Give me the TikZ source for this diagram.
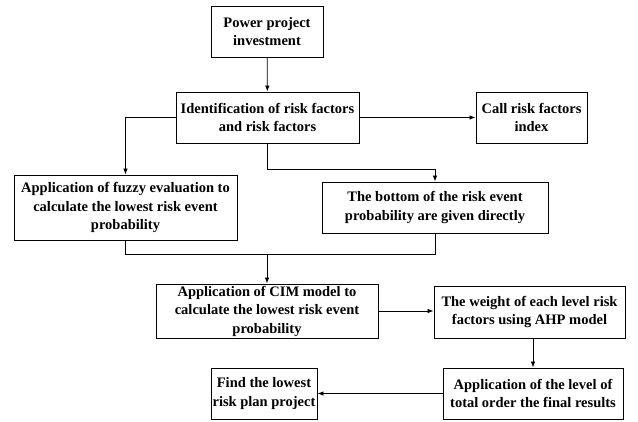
\documentclass[tikz,border=0pt]{standalone}
\usepackage{fontspec}
\setmainfont{Liberation Serif}
\usetikzlibrary{arrows.meta}
\begin{document}
\begin{tikzpicture}[x=1pt,y=-1pt,
    box/.style={draw, line width=0.9pt, align=center, inner sep=0pt,
        font=\bfseries\fontsize{14.5}{18.5}\selectfont},
    arr/.style={line width=0.8pt, -{Latex[length=6pt,width=4.5pt]}}]
    \useasboundingbox (0,0) rectangle (638,421);
    % boxes
    \node[box, minimum width=112, minimum height=51] (invest) at (267,31.5) {Power project\\investment};
    \node[box, minimum width=183, minimum height=51] (ident) at (267.5,117.5) {Identification of risk factors\\and risk factors};
    \node[box, minimum width=111, minimum height=51] (index) at (531.5,117.5) {Call risk factors\\index};
    \node[box, minimum width=223, minimum height=65] (fuzzy) at (125.5,207.5) {Application of fuzzy evaluation to\\calculate the lowest risk event\\probability};
    \node[box, minimum width=226, minimum height=51] (direct) at (435,207.5) {The bottom of the risk event\\probability are given directly};
    \node[box, minimum width=222, minimum height=54] (cim) at (267,311) {Application of CIM model to\\calculate the lowest risk event\\probability};
    \node[box, minimum width=191, minimum height=52] (ahp) at (529.5,312) {The weight of each level risk\\factors using AHP model};
    \node[box, minimum width=180, minimum height=51] (total) at (533,393.5) {Application of the level of\\total order the final results};
    \node[box, minimum width=106, minimum height=51] (lowest) at (264,393.5) {Find the lowest\\risk plan project};
    \coordinate (join) at (267,254);
    % connectors
    \draw[arr] (invest) -- (ident);
    \draw[arr] (ident) -- (index);
    \draw[arr] (ident.west) -| (fuzzy.north);
    \draw[arr] (ident.south) -- ++(0,26) -| (direct.north);
    \draw[line width=0.8pt] (fuzzy.south) -- (fuzzy.south |- join) -- (direct.south |- join) -- (direct.south);
    \draw[arr] (join) -- (cim.north);
    \draw[arr] (cim.east) -- (ahp.west |- cim.east);
    \draw[arr] (total.north |- ahp.south) -- (total.north);
    \draw[arr] (total) -- (lowest);
\end{tikzpicture}
\end{document}
